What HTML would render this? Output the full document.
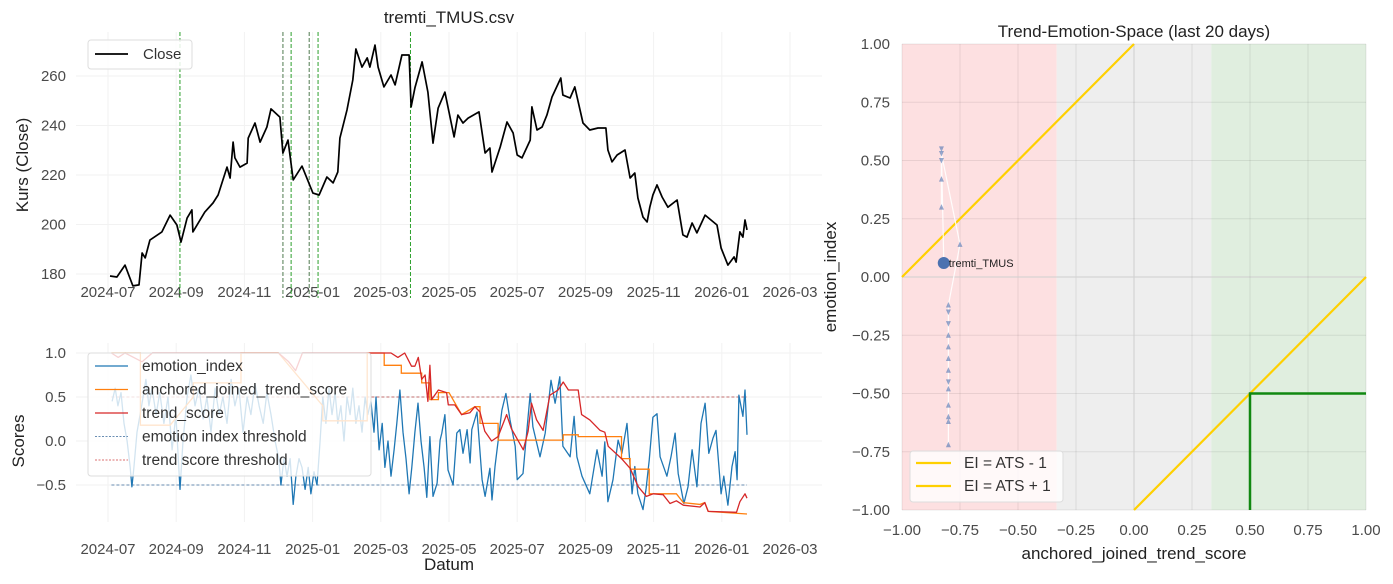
<!DOCTYPE html>
<html><head><meta charset="utf-8">
<style>
html,body{margin:0;padding:0;background:#fff;}
svg{display:block;font-family:"Liberation Sans",sans-serif;}
.tk{font-size:15px;fill:#4a4a4a;}
.lb{font-size:17px;fill:#222;}
</style></head>
<body>
<svg id="c" width="1393" height="584" viewBox="0 0 1393 584" xmlns="http://www.w3.org/2000/svg"></svg>
<script>
// ---------- data ----------
const monthTicks = ["2024-07","2024-09","2024-11","2025-01","2025-03","2025-05","2025-07","2025-09","2025-11","2026-01","2026-03"];
const closeTicks = [180,200,220,240,260];
const scoreTicks = [1.0,0.5,0.0,-0.5];
const scoreTickLabels = ["1.0","0.5","0.0","\u22120.5"];
// months since 2024-07-01
const closeM = [0.06,0.26,0.5,0.73,0.91,1.0,1.09,1.23,1.58,1.82,2.02,2.14,2.32,2.46,2.49,2.84,3.08,3.23,3.49,3.58,3.67,3.72,3.87,4.08,4.11,4.31,4.46,4.66,4.78,5.04,5.13,5.28,5.43,5.69,6.01,6.19,6.42,6.6,6.74,6.8,7.01,7.18,7.27,7.45,7.6,7.68,7.83,7.92,8.09,8.3,8.42,8.62,8.83,8.89,9.0,9.21,9.38,9.53,9.68,9.88,10.15,10.26,10.41,10.56,10.88,11.06,11.2,11.26,11.5,11.7,11.88,12.0,12.14,12.38,12.43,12.58,12.73,12.87,13.02,13.28,13.34,13.55,13.69,13.93,14.13,14.37,14.6,14.66,14.78,14.93,15.16,15.31,15.45,15.54,15.69,15.81,15.89,15.98,16.1,16.25,16.42,16.69,16.86,16.98,17.13,17.27,17.51,17.86,17.98,18.18,18.36,18.42,18.53,18.62,18.68,18.74];
const closeV = [179.2,178.8,183.6,175.2,175.6,188.5,186.5,193.7,197,203.8,199.8,192.9,202.6,205.9,197,205,208.7,211.9,223.2,218.8,233.3,226.9,223.2,224.8,234.9,241,233.3,239.4,246.7,243.4,228.9,234.1,218,223.6,212.7,211.9,219.2,216.8,221.2,234.9,246.3,258.4,270.9,263.6,267.3,263.6,272.5,263.6,255.6,260.4,256.4,268.5,268.5,247.5,255.2,265.7,253.5,232.9,247,253.5,235.4,244.2,241,243,245.5,228.9,230.9,221.2,231.3,241.4,237,228.1,226.9,234.1,247.5,238.2,239.4,244.2,251.5,259.2,252.3,251.1,255.6,241,238.2,239,239,230.1,225.3,228.1,230.1,218.8,220.8,210.7,203,201,207,211.9,216,211.1,207,209.9,195.8,194.9,200.6,196.6,203.8,199.8,190.5,183.6,186.9,184.8,197,194.9,201.8,197.8];
const eventM = [2.11,5.13,5.37,5.9,6.16,8.87];
const emoM = [0.12,0.21,0.29,0.38,0.47,0.56,0.65,0.70,0.76,0.85,0.94,1.03,1.11,1.20,1.29,1.41,1.52,1.64,1.76,1.88,1.99,2.11,2.20,2.32,2.43,2.55,2.67,2.79,2.90,3.02,3.14,3.26,3.37,3.49,3.61,3.72,3.84,3.96,4.08,4.19,4.31,4.43,4.55,4.66,4.78,4.90,5.01,5.07,5.16,5.25,5.34,5.43,5.51,5.60,5.69,5.78,5.87,5.95,6.04,6.13,6.22,6.30,6.39,6.48,6.57,6.66,6.74,6.83,6.92,7.01,7.10,7.18,7.27,7.36,7.45,7.54,7.62,7.71,7.80,7.86,7.95,8.04,8.12,8.21,8.30,8.39,8.47,8.56,8.65,8.74,8.83,8.91,9.00,9.09,9.18,9.27,9.35,9.44,9.53,9.65,9.74,9.79,9.88,9.97,10.12,10.23,10.32,10.41,10.53,10.62,10.67,10.82,10.97,11.06,11.20,11.26,11.35,11.55,11.67,11.79,11.94,12.0,12.17,12.38,12.46,12.67,12.82,12.99,13.11,13.25,13.34,13.55,13.67,13.75,13.9,13.99,14.13,14.34,14.49,14.57,14.66,14.81,14.87,14.96,15.07,15.22,15.37,15.45,15.54,15.69,15.78,15.87,15.98,16.10,16.19,16.39,16.51,16.63,16.72,16.89,17.01,17.13,17.27,17.39,17.51,17.62,17.74,17.83,17.98,18.06,18.18,18.30,18.39,18.45,18.50,18.62,18.68,18.74];
const emoV = [0.45,0.6,0.4,0.55,0.2,0.0,-0.3,-0.52,-0.3,0.1,0.3,0.5,0.7,0.4,0.6,0.3,0.55,0.2,0.5,-0.1,0.3,-0.55,0.0,0.5,0.75,0.4,0.6,0.25,0.5,0.1,0.6,0.3,0.5,0.2,0.7,0.4,0.6,0.1,0.5,0.3,0.65,0.4,0.2,0.55,0.3,0.0,-0.2,-0.5,-0.2,-0.4,-0.2,-0.72,-0.4,-0.2,-0.3,-0.55,-0.3,-0.6,-0.35,-0.5,0.0,0.5,0.2,0.6,0.3,0.55,0.2,0.4,0.0,0.5,0.3,0.6,0.2,0.4,0.1,0.5,0.3,0.45,0.1,0.5,-0.1,0.2,-0.3,0.0,-0.4,-0.1,0.2,0.58,0.1,-0.2,-0.6,-0.3,0.1,0.43,0.0,-0.3,-0.64,0.05,-0.63,-0.48,0.01,0.09,0.3,-0.33,-0.5,0.09,0.13,-0.14,0.13,-0.25,0.13,0.33,-0.44,-0.63,-0.31,-0.67,-0.29,0.35,0.54,0.24,-0.06,-0.44,-0.37,0.54,0.16,-0.18,0.09,0.69,0.43,0.73,-0.06,-0.18,0.28,-0.18,-0.4,-0.48,-0.6,-0.1,-0.4,-0.01,-0.69,-0.44,-0.25,0.01,-0.14,0.2,-0.6,-0.29,-0.6,-0.78,-0.54,-0.22,0.27,0.31,-0.18,-0.4,-0.18,0.09,-0.37,-0.71,-0.52,-0.1,-0.52,0.2,0.43,-0.14,0.03,0.12,-0.6,-0.4,-0.73,-0.29,-0.12,-0.44,0.52,0.28,0.58,0.07];
const trendM = [0.1,0.3,0.5,1.0,1.3,5.0,5.3,5.5,5.7,8.3,8.5,8.7,8.9,9.0,9.1,9.2,9.3,9.38,9.44,9.49,9.69,9.93,9.98,10.17,10.37,10.61,10.76,10.91,11.05,11.25,11.44,11.69,11.83,12.18,12.32,12.42,12.57,12.76,12.96,13.2,13.35,13.5,13.79,13.89,14.13,14.43,14.57,14.67,15.06,15.31,15.55,15.79,15.99,16.28,16.48,16.67,16.87,17.36,17.5,17.6,18.43,18.53,18.68,18.74];
const trendV = [1.0,0.95,1.0,0.9,1.0,1.0,0.9,0.8,1.0,1.0,0.95,1.0,0.85,0.85,0.95,0.7,0.75,0.45,0.86,0.47,0.58,0.55,0.41,0.41,0.3,0.32,0.39,0.33,0.11,0.0,0.05,0.3,0.14,-0.1,0.11,0.43,0.24,0.12,0.52,0.58,0.67,0.58,0.58,0.3,0.24,0.12,0.1,-0.06,-0.2,-0.31,-0.52,-0.63,-0.6,-0.61,-0.71,-0.68,-0.73,-0.75,-0.7,-0.8,-0.81,-0.69,-0.6,-0.65];
const anchM = [0.1,0.95,0.95,1.82,2.5,2.5,3.9,3.9,5.0,6.3,6.3,7.6,7.6,8.1,8.1,8.6,8.6,9.2,9.2,9.44,9.44,9.69,9.69,10.0,10.37,10.76,10.91,10.91,11.44,11.44,13.35,13.35,13.79,13.79,15.06,15.06,15.31,15.31,15.87,15.87,16.67,16.87,17.36,17.5,17.6,18.74];
const anchV = [1,1,0.18,0.18,0.5,0.66,0.66,1,1,0.4,0.23,0.23,1,1,0.86,0.86,0.77,0.77,0.66,0.66,0.47,0.47,0.55,0.55,0.3,0.39,0.39,0.2,0.2,0.01,0.01,0.07,0.07,0.05,0.05,-0.2,-0.2,-0.32,-0.32,-0.6,-0.6,-0.7,-0.72,-0.7,-0.8,-0.83];
const emoThreshold = -0.5;
const trendThreshold = 0.5;
// trajectory last 20 days
const trajATS = [-0.80,-0.80,-0.80,-0.80,-0.80,-0.80,-0.80,-0.80,-0.80,-0.80,-0.80,-0.80,-0.80,-0.75,-0.83,-0.83,-0.83,-0.83,-0.83,-0.82];
const trajEI = [-0.72,-0.62,-0.55,-0.48,-0.40,-0.30,-0.25,-0.15,-0.20,-0.45,-0.60,-0.35,-0.12,0.14,0.53,0.50,0.30,0.42,0.55,0.06];
const spaceTicks = [-1,-0.75,-0.5,-0.25,0,0.25,0.5,0.75,1];

// ---------- helpers ----------
const NS="http://www.w3.org/2000/svg";
const svg=document.getElementById('c');
function mk(tag,attrs,parent,text){const e=document.createElementNS(NS,tag);for(const k in attrs)e.setAttribute(k,attrs[k]);if(text!==undefined)e.textContent=text;(parent||svg).appendChild(e);return e;}
const xM = m => 108 + m*34.1;
const yC = v => 274 - (v-180)*2.475;
const yS = v => 441 - v*88;
const xE = v => 902 + (v+1)*232;
const yE = v => 510 - (v+1)*233;
function fmt(v){return (v<0?"\u2212":"")+Math.abs(v).toFixed(2);}
function path(xs,ys,fx,fy){return xs.map((m,i)=>(i?"L":"M")+fx(m).toFixed(1)+","+fy(ys[i]).toFixed(1)).join("");}

// ---------- top panel ----------
const gTop=mk('g',{});


monthTicks.forEach((t,i)=>{const x=xM(i*2);
  mk('line',{x1:x,x2:x,y1:32,y2:298,stroke:'#f2f2f2','stroke-width':1},gTop);
  const tl=mk('text',{x:x,y:297,'text-anchor':'middle',class:'tk'},gTop,t);
  });
closeTicks.forEach(v=>{const y=yC(v);
  mk('line',{x1:76,x2:822,y1:y,y2:y,stroke:'#f2f2f2','stroke-width':1},gTop);
  const tl=mk('text',{x:66,y:y+5,'text-anchor':'end',class:'tk'},gTop,String(v));
  });
eventM.forEach((m,i)=>{const x=xM(m);
  const l=mk('line',{x1:x,x2:x,y1:32,y2:298,stroke:(i==1||i==3)?'#4f7a4f':'#2ca02c','stroke-width':1,'stroke-dasharray':'4,2'},gTop);
  });
const cl=mk('path',{d:path(closeM,closeV,xM,yC),fill:'none',stroke:'#000','stroke-width':1.7,'stroke-linejoin':'round'},gTop);

const tt=mk('text',{x:449,y:23,'text-anchor':'middle',class:'lb'},gTop,'tremti_TMUS.csv');

const yl=mk('text',{x:0,y:0,'text-anchor':'middle',class:'lb',transform:'translate(28,165) rotate(-90)'},gTop,'Kurs (Close)');

const lg1=mk('g',{},gTop);

mk('rect',{x:88,y:40,width:104,height:29,rx:3,fill:'rgba(255,255,255,0.85)',stroke:'#ddd'},lg1);
mk('line',{x1:95,x2:128,y1:54,y2:54,stroke:'#000','stroke-width':1.7},lg1);
mk('text',{x:143,y:59,style:'font-size:15px;fill:#333'},lg1,'Close');

// ---------- bottom panel ----------
const gBot=mk('g',{});


monthTicks.forEach((t,i)=>{const x=xM(i*2);
  mk('line',{x1:x,x2:x,y1:343,y2:522,stroke:'#f2f2f2','stroke-width':1},gBot);
  const tl=mk('text',{x:x,y:554,'text-anchor':'middle',class:'tk'},gBot,t);
  });
scoreTicks.forEach((v,i)=>{const y=yS(v);
  mk('line',{x1:76,x2:822,y1:y,y2:y,stroke:'#f2f2f2','stroke-width':1},gBot);
  const tl=mk('text',{x:66,y:y+5,'text-anchor':'end',class:'tk'},gBot,scoreTickLabels[i]);
  });
const th1=mk('line',{x1:xM(0.1),x2:xM(18.74),y1:yS(emoThreshold),y2:yS(emoThreshold),stroke:'#3a6a9a','stroke-width':0.8,'stroke-dasharray':'3,2'},gBot);

const th2=mk('line',{x1:xM(0.1),x2:xM(18.74),y1:yS(trendThreshold),y2:yS(trendThreshold),stroke:'#b04040','stroke-width':0.8,'stroke-dasharray':'3,2'},gBot);

const el=mk('path',{d:path(emoM,emoV,xM,yS),fill:'none',stroke:'#1f77b4','stroke-width':1.3,'stroke-linejoin':'round'},gBot);

const al=mk('path',{d:path(anchM,anchV,xM,yS),fill:'none',stroke:'#ff7f0e','stroke-width':1.3},gBot);

const tl2=mk('path',{d:path(trendM,trendV,xM,yS),fill:'none',stroke:'#d62728','stroke-width':1.3,'stroke-linejoin':'round'},gBot);

const xl=mk('text',{x:449,y:570,'text-anchor':'middle',class:'lb'},gBot,'Datum');

const yl2=mk('text',{x:0,y:0,'text-anchor':'middle',class:'lb',transform:'translate(24,441) rotate(-90)'},gBot,'Scores');

const lg2=mk('g',{},gBot);

mk('rect',{x:88,y:353,width:283,height:123,rx:3,fill:'rgba(255,255,255,0.8)',stroke:'#ddd'},lg2);
[['emotion_index','#1f77b4',0],['anchored_joined_trend_score','#ff7f0e',0],['trend_score','#d62728',0],['emotion index threshold','#3a6a9a',1],['trend score threshold','#d04040',1]].forEach((e,i)=>{
  const y=366+i*23.5;
  const le=mk('g',{},lg2);
  
  mk('line',{x1:95,x2:128,y1:y,y2:y,stroke:e[1],'stroke-width':e[2]?0.8:1.3,'stroke-dasharray':e[2]?'2,1.5':'none'},le);
  mk('text',{x:142,y:y+5,style:'font-size:15.5px;fill:#333'},le,e[0]);
});

// ---------- right panel ----------
const gR=mk('g',{});


const z1=mk('rect',{x:xE(-1),y:44,width:xE(-1/3)-xE(-1),height:466,fill:'#fde0e1'},gR);

const z2=mk('rect',{x:xE(-1/3),y:44,width:xE(1/3)-xE(-1/3),height:466,fill:'#eeeeee'},gR);

const z3=mk('rect',{x:xE(1/3),y:44,width:xE(1)-xE(1/3),height:466,fill:'#e0eedf'},gR);

spaceTicks.forEach(v=>{
  mk('line',{x1:xE(v),x2:xE(v),y1:44,y2:510,stroke:v===0?'#cfcfcf':'rgba(0,0,0,0.08)','stroke-width':1},gR);
  mk('line',{x1:902,x2:1366,y1:yE(v),y2:yE(v),stroke:v===0?'#cfcfcf':'rgba(0,0,0,0.08)','stroke-width':1},gR);
  const a=mk('text',{x:xE(v),y:535,'text-anchor':'middle',class:'tk'},gR,fmt(v));
  
  const b=mk('text',{x:890,y:yE(v)+5,'text-anchor':'end',class:'tk'},gR,fmt(v));
  
});
const yp=mk('line',{x1:xE(-1),y1:yE(0),x2:xE(0),y2:yE(1),stroke:'#ffd000','stroke-width':2.2},gR);

const ym=mk('line',{x1:xE(0),y1:yE(-1),x2:xE(1),y2:yE(0),stroke:'#ffd000','stroke-width':2.2},gR);

const gb=mk('path',{d:`M${xE(0.5)},${yE(-1)}L${xE(0.5)},${yE(-0.5)}L${xE(1)},${yE(-0.5)}`,fill:'none',stroke:'#118811','stroke-width':2.5},gR);

const tr=mk('path',{d:path(trajATS,trajEI,xE,yE),fill:'none',stroke:'#fff','stroke-width':1.2,opacity:0.9},gR);

trajATS.forEach((a,i)=>{ if(i===trajATS.length-1) return;
  const x=xE(a),y=yE(trajEI[i]);const up=trajEI[i+1]>trajEI[i];
  const m=mk('path',{d:up?`M${x-2.5},${y+2.5}L${x+2.5},${y+2.5}L${x},${y-3}Z`:`M${x-2.5},${y-2.5}L${x+2.5},${y-2.5}L${x},${y+3}Z`,fill:'#4c72b0',opacity:0.6},gR);
  
});
const n=trajATS.length-1;
const dot=mk('circle',{cx:xE(trajATS[n]),cy:yE(trajEI[n]),r:6,fill:'#4c72b0'},gR);

const dl=mk('text',{x:xE(trajATS[n])+5,y:yE(trajEI[n])+4,style:'font-size:11px;fill:#222'},gR,'tremti_TMUS');

const rt=mk('text',{x:1134,y:37,'text-anchor':'middle',class:'lb'},gR,'Trend-Emotion-Space (last 20 days)');

const rx=mk('text',{x:1134,y:559,'text-anchor':'middle',class:'lb'},gR,'anchored_joined_trend_score');

const ry=mk('text',{x:0,y:0,'text-anchor':'middle',class:'lb',transform:'translate(836,277) rotate(-90)'},gR,'emotion_index');

const lg3=mk('g',{},gR);

mk('rect',{x:910,y:451,width:153,height:51,rx:3,fill:'rgba(255,255,255,0.8)',stroke:'#ddd'},lg3);
['EI = ATS - 1','EI = ATS + 1'].forEach((t,i)=>{const y=463+i*23;
  mk('line',{x1:916,x2:951,y1:y,y2:y,stroke:'#ffd000','stroke-width':2.2},lg3);
  mk('text',{x:964,y:y+5,style:'font-size:15.5px;fill:#333'},lg3,t);});
</script>
</body></html>
